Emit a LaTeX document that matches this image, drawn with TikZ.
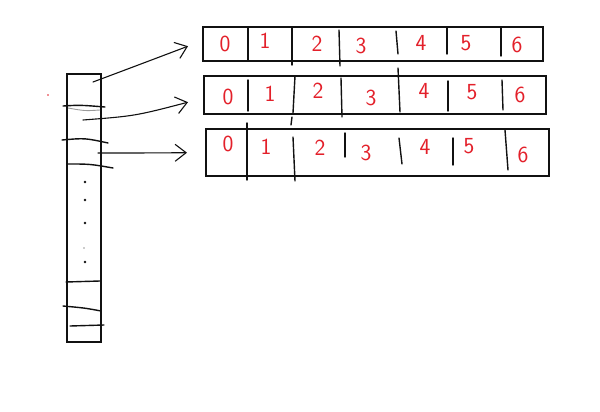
\documentclass[tikz,border=0pt]{standalone}
\usepackage{fontspec}
\usepackage{tikz}
\usetikzlibrary{
  arrows.meta,
  positioning,
  calc
}
\definecolor{FigText}{HTML}{111111}
\definecolor{FigRed}{HTML}{E3202A}
\definecolor{FigGray}{HTML}{9A9A9A}

\begin{document}
\begin{tikzpicture}[
x=1pt, y=-1pt,
font=\sffamily,
rowbox/.style={
draw=FigText,
line width=2.4pt,
minimum width=340pt,
minimum height=34pt,
anchor=north west,
inner sep=0pt
},
colbox/.style={
draw=FigText,
line width=2pt,
minimum width=34pt,
minimum height=268pt,
anchor=north west,
inner sep=0pt
},
digit/.style={text=FigRed, font=\sffamily\fontsize{23}{23}\selectfont, inner sep=0pt},
sep/.style={draw=FigText, line width=1.4pt, line cap=round},
arrow/.style={draw=FigText, line width=1.1pt, line cap=round,
  -{Straight Barb[length=11pt, width=17pt, line width=1.1pt]}}
]
\useasboundingbox (0,0) rectangle (600,412);

% Left column (the table)
\node[colbox] (col) at (66,73) {};

% Slot lines in the column
\draw[sep] (63,106) .. controls (80,105) .. (105,107);
\draw[draw=FigGray, line width=0.9pt] (68,108) .. controls (85,111) .. (100,110);
\draw[sep] (62,140) .. controls (85,138) .. (108,143);
\draw[sep] (67,164) .. controls (90,164) .. (113,168);
\draw[sep] (66,282) -- (100,281);
\draw[sep] (63,306) .. controls (85,308) .. (101,311);
\draw[sep] (70,326) -- (104,325);

% Dots
\foreach \yy [count=\k] in {182,200,223,262}
  \fill[FigText] (85,\yy) circle (1.3pt);
\fill[FigGray] (84,248) circle (0.8pt);
\fill[FigRed] (48,95) circle (0.8pt);

% Three arrays
\node[rowbox] (rowA) at (202,26) {};
\node[rowbox, minimum width=342pt, minimum height=38pt] (rowB) at (203,75) {};
\node[rowbox, minimum width=343pt, minimum height=47pt] (rowC) at (205,128) {};

% Dividers, first array
\foreach \xa/\ya/\xb/\yb in {248/27/248/60, 292/28/292/65, 339/30/340/66,
                             396/31/398/54, 447/27/447/54, 501/27/501/56}
  \draw[sep] (\xa,\ya) -- (\xb,\yb);

% Dividers, second array
\foreach \xa/\ya/\xb/\yb in {248/80/248/111, 295/76/293/113, 292/117/291/125,
                             341/78/342/117, 398/68/400/112, 448/81/448/111,
                             502/80/503/110}
  \draw[sep] (\xa,\ya) -- (\xb,\yb);

% Dividers, third array
\foreach \xa/\ya/\xb/\yb in {247/123/247/180, 293/137/295/181, 345/133/345/157,
                             399/138/402/164, 453/138/453/165, 505/130/508/170}
  \draw[sep] (\xa,\ya) -- (\xb,\yb);

% Indices
\foreach \xx/\yy [count=\i from 0] in {225/44, 265/41, 317/44, 361/46,
                                       421/43, 466/43, 517/45}
  \node[digit] (a\i) at (\xx,\yy) {\i};
\foreach \xx/\yy [count=\i from 0] in {228/97, 270/94, 318/91, 371/98,
                                       424/91, 472/92, 520/95}
  \node[digit] (b\i) at (\xx,\yy) {\i};
\foreach \xx/\yy [count=\i from 0] in {228/144, 266/147, 320/148, 366/153,
                                       425/147, 469/146, 523/155}
  \node[digit] (c\i) at (\xx,\yy) {\i};

% Arrows from the slots
\coordinate (slotA) at (93,82);
\coordinate (slotB) at (83,120);
\coordinate (slotC) at (98,153);
\coordinate (tipA) at ($(rowA.west)+(-14,2)$);
\coordinate (tipB) at ($(rowB.west)+(-15,7)$);
\coordinate (tipC) at ($(rowC.west)+(-18,0)$);

\draw[arrow] (slotA) .. controls (133,67) .. (tipA);
\draw[arrow] (slotB) .. controls (135,116) .. (tipB);
\draw[arrow] (slotC) .. controls (140,153) .. (tipC);

\end{tikzpicture}
\end{document}
